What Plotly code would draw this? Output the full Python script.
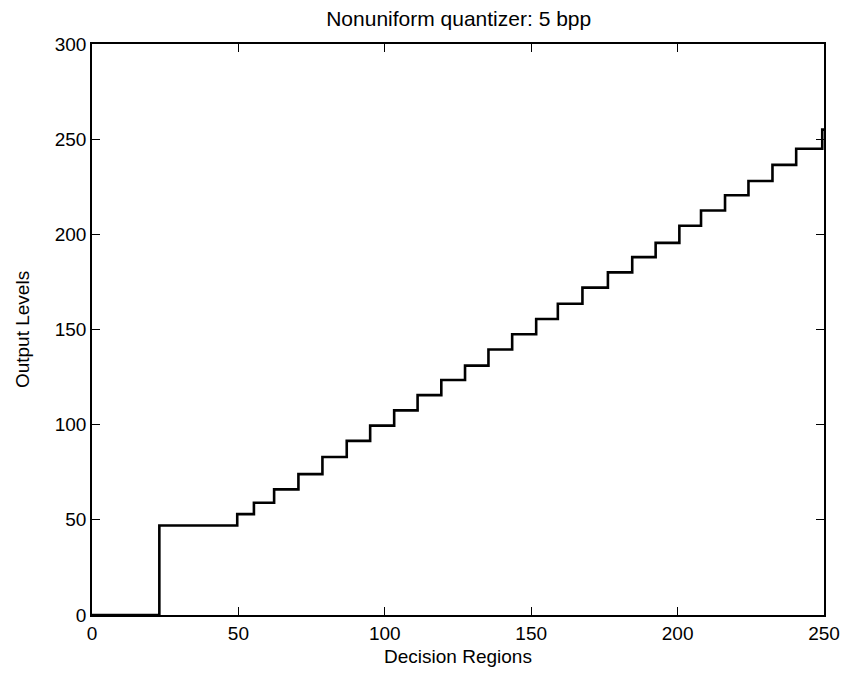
import plotly.graph_objects as go

# Decision boundaries (x where the output level changes)
boundaries = [23.0, 49.6, 55.3, 62.2, 70.5, 78.7, 87.0, 95.0, 103.2, 111.2,
              119.3, 127.4, 135.4, 143.5, 151.7, 159.1, 167.5, 176.2, 184.5,
              192.5, 200.6, 208.0, 216.2, 224.2, 232.4, 240.5, 249.4]
# Output levels (one per region)
levels = [0, 47, 53, 59, 66, 74, 83, 91.5, 99.5, 107.5, 115.5, 123.5, 131,
          139.5, 147.5, 155.5, 163.5, 172, 180, 188, 195.5, 204.5, 212.5,
          220.5, 228, 236.5, 245, 255]
x_start = 0
x_end = 255

xs = [x_start] + boundaries + [x_end]
ys = levels + [levels[-1]]

x_ticks = [0, 50, 100, 150, 200, 250]
y_ticks = [0, 50, 100, 150, 200, 250, 300]

fig = go.Figure()
fig.add_trace(go.Scatter(x=xs, y=ys, mode="lines", line_shape="hv",
                         line=dict(color="black", width=2.6), showlegend=False))

fam = "Liberation Sans, Arial, sans-serif"
font = dict(family=fam, size=19, color="black")
axis_common = dict(showgrid=False, zeroline=False, showline=True, linecolor="black",
                   linewidth=1.5, mirror="ticks", ticks="inside", ticklen=8,
                   tickwidth=1, tickcolor="black", tickfont=font)

fig.update_layout(
    width=844, height=669,
    margin=dict(l=84, r=21, t=36, b=62),
    paper_bgcolor="white", plot_bgcolor="white",
    font=font,
    title=dict(text="Nonuniform quantizer: 5 bpp", x=0.534, xanchor="center",
               y=0.984, yanchor="middle", font=dict(family=fam, size=21, color="black")),
    xaxis=dict(range=[0, 250], tickvals=x_ticks, title=dict(text="Decision Regions", font=font, standoff=7),
               **axis_common),
    yaxis=dict(range=[0, 300], tickvals=y_ticks, title=dict(text="Output Levels", font=font, standoff=20),
               **axis_common),
)

fig.write_html("out.html")
